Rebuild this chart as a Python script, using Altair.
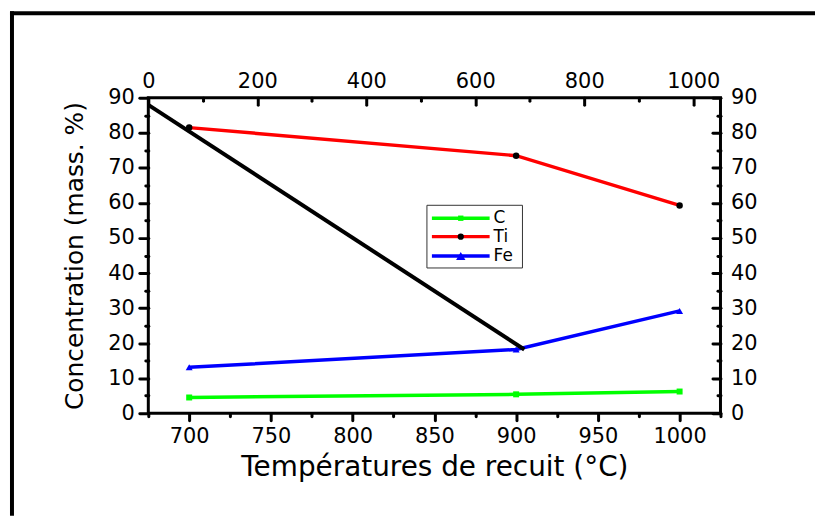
import altair as alt
import pandas as pd

# ---------------- data ----------------
series = ["C", "Ti", "Fe"]
temperatures = [700, 900, 1000]
conc_C = [4.5, 5.4, 6.2]
conc_Ti = [81.5, 73.5, 59.3]
conc_Fe = [13.1, 18.2, 29.2]

# black straight line, expressed on the top (0-1050) axis
black_top_x = [0, 690]
black_y = [88.0, 18.2]

line_colors = ["#00ff00", "#ff0000", "#0000ff"]
marker_colors = ["#00ff00", "#000000", "#0000ff"]
marker_shapes = ["square", "circle", "triangle-up"]
marker_sizes = [36, 49, 110]

bottom_major = [700, 750, 800, 850, 900, 950, 1000]
bottom_minor = [675, 725, 775, 825, 875, 925, 975, 1025]
top_major = [0, 200, 400, 600, 800, 1000]
top_minor = [100, 300, 500, 700, 900]
y_major = [0, 10, 20, 30, 40, 50, 60, 70, 80, 90]
y_minor = [5, 15, 25, 35, 45, 55, 65, 75, 85]

x_title = "Températures de recuit (°C)"
y_title = "Concentration (mass. %)"

# ---------------- tables ----------------
rows = []
for name, vals in zip(series, [conc_C, conc_Ti, conc_Fe]):
    for t, v in zip(temperatures, vals):
        rows.append({"series": name, "temp": t, "conc": v})
df = pd.DataFrame(rows)
df_black = pd.DataFrame({"tx": black_top_x, "conc": black_y})
one = pd.DataFrame({"k": [0]})

FONT = "DejaVu Sans"

xs_bottom = alt.Scale(domain=[675, 1025], nice=False, zero=False)
xs_top = alt.Scale(domain=[0, 1050], nice=False, zero=False)
ys = alt.Scale(domain=[0, 90], nice=False, zero=False)

lines = alt.Chart(df).mark_line(strokeWidth=3.5).encode(
    x=alt.X("temp:Q", scale=xs_bottom,
            axis=alt.Axis(orient="bottom", values=bottom_major, tickSize=7,
                          format="d", labelPadding=5, title=x_title,
                          titleFontSize=28, titlePadding=8)),
    y=alt.Y("conc:Q", scale=ys,
            axis=alt.Axis(orient="left", values=y_major, tickSize=9, format="d",
                          labelPadding=5, title=y_title, titleFontSize=25,
                          titlePadding=20)),
    stroke=alt.Stroke("series:N", scale=alt.Scale(domain=series, range=line_colors),
                      legend=None),
)

points = alt.Chart(df).mark_point(filled=True, opacity=1, strokeWidth=0).encode(
    x=alt.X("temp:Q", scale=xs_bottom,
            axis=alt.Axis(orient="bottom", values=bottom_minor, tickSize=3,
                          labels=False, title=None)),
    y=alt.Y("conc:Q", scale=ys,
            axis=alt.Axis(orient="left", values=y_minor, tickSize=3,
                          labels=False, title=None)),
    fill=alt.Fill("series:N", scale=alt.Scale(domain=series, range=marker_colors),
                  legend=None),
    shape=alt.Shape("series:N", scale=alt.Scale(domain=series, range=marker_shapes),
                    legend=None),
    size=alt.Size("series:N", scale=alt.Scale(domain=series, range=marker_sizes),
                  legend=None),
)

black = alt.Chart(df_black).mark_line(color="black", strokeWidth=4).encode(
    x=alt.X("tx:Q", scale=xs_top,
            axis=alt.Axis(orient="top", values=top_major, offset=-7, tickSize=7,
                          format="d", labelPadding=6, title=None)),
    y=alt.Y("conc:Q", scale=ys,
            axis=alt.Axis(orient="right", values=y_major, offset=-8, tickSize=8,
                          format="d", labelPadding=10, title=None)),
)

black_minor = alt.Chart(df_black).mark_line(color="black", strokeWidth=4,
                                              strokeOpacity=0).encode(
    x=alt.X("tx:Q", scale=xs_top,
            axis=alt.Axis(orient="top", values=top_minor, offset=-3, tickSize=3,
                          labels=False, title=None)),
    y=alt.Y("conc:Q", scale=ys,
            axis=alt.Axis(orient="right", values=y_minor, offset=-3, tickSize=3,
                          labels=False, title=None)),
)

# ---------------- legend box (inside the plot) ----------------
legend_rows_y = [121, 139.5, 159]
legend_layers = [
    alt.Chart(one).mark_rect(fill="white", stroke="#333333", strokeWidth=1).encode(
        x=alt.value(280), x2=alt.value(376), y=alt.value(108), y2=alt.value(171))
]
for i, name in enumerate(series):
    ly = legend_rows_y[i]
    legend_layers.append(
        alt.Chart(one).mark_rule(color=line_colors[i], strokeWidth=3.5).encode(
            x=alt.value(285), x2=alt.value(343), y=alt.value(ly)))
    legend_layers.append(
        alt.Chart(one).mark_point(filled=True, opacity=1, strokeWidth=0,
                                  shape=marker_shapes[i], color=marker_colors[i],
                                  size=marker_sizes[i] * 0.8).encode(
            x=alt.value(314), y=alt.value(ly)))
    legend_layers.append(
        alt.Chart(one).mark_text(align="left", baseline="middle", font=FONT,
                                 fontSize=17, color="black", text=name).encode(
            x=alt.value(347), y=alt.value(ly)))

# ---------------- outer frame (left and top edges visible) ----------------
frame_left = alt.Chart(one).mark_rule(color="black", strokeWidth=4).encode(
    x=alt.value(-137), y=alt.value(-87), y2=alt.value(420))
frame_top = alt.Chart(one).mark_rule(color="black", strokeWidth=4).encode(
    x=alt.value(-139), x2=alt.value(670), y=alt.value(-85))

chart = (
    alt.layer(lines, points, black, black_minor, *legend_layers, frame_left, frame_top)
    .resolve_scale(x="independent")
    .resolve_axis(x="independent", y="independent")
    .properties(width=575, height=317, padding=0, background="white")
    .configure_view(stroke="black", strokeWidth=3)
    .configure_axis(
        labelFont=FONT, labelFontSize=21, labelColor="black",
        titleFont=FONT, titleFontWeight="normal", titleColor="black",
        tickColor="black", tickWidth=3, tickCap="round",
        domain=False, grid=False, labelFlush=False, labelOverlap=False,
    )
)

chart.save("out.html", embed_options={"renderer": "svg", "actions": False})
